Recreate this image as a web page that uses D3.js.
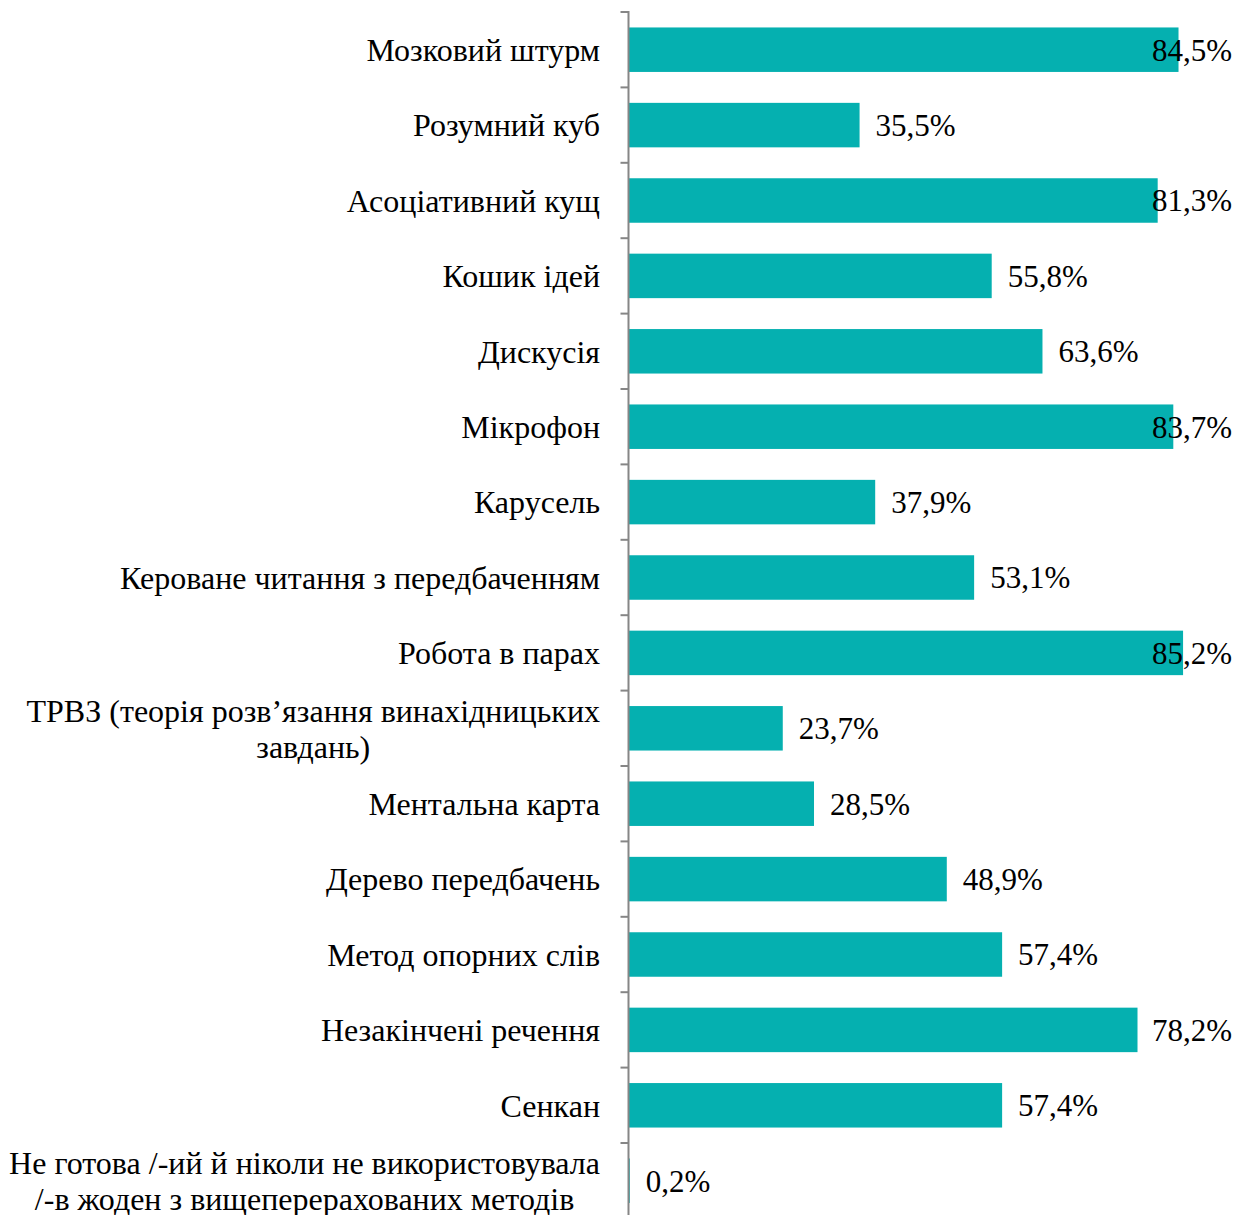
<!DOCTYPE html>
<html>
<head>
<meta charset="utf-8">
<script src="https://cdn.jsdelivr.net/npm/d3@7"></script>
<style>
  body { margin: 0; background: #fff; }
  text { font-family: "Liberation Serif", "Times New Roman", serif; }
</style>
</head>
<body>
<script>
// categories, top to bottom ("\n" = line break in the label)
var categories = [
  'Мозковий штурм',
  'Розумний куб',
  'Асоціативний кущ',
  'Кошик ідей',
  'Дискусія',
  'Мікрофон',
  'Карусель',
  'Кероване читання з передбаченням',
  'Робота в парах',
  'ТРВЗ (теорія розв’язання винахідницьких\nзавдань)',
  'Ментальна карта',
  'Дерево передбачень',
  'Метод опорних слів',
  'Незакінчені речення',
  'Сенкан',
  'Не готова /-ий й ніколи не використовувала\n/-в жоден з вищеперерахованих методів'
];

var values = [84.5, 35.5, 81.3, 55.8, 63.6, 83.7, 37.9, 53.1, 85.2, 23.7, 28.5, 48.9, 57.4, 78.2, 57.4, 0.2];

var width = 1236;
var height = 1215;
var axisX = 628.5;
var rightEdge = 1232;

var svg = d3.select('body')
  .append('svg')
    .attr('width', width)
    .attr('height', height);

var x = d3.scaleLinear()
    .domain([0, 100])
    .range([axisX, axisX + 650.9]);

var y = d3.scaleBand()
    .domain(categories)
    .range([12, 12 + 75.4 * categories.length])
    .paddingInner(0.41)
    .paddingOuter(0.205);

// bars
svg.selectAll('rect.bar')
  .data(values)
  .enter().append('rect')
    .attr('class', 'bar')
    .attr('x', x(0))
    .attr('y', function(d, i) { return y(categories[i]); })
    .attr('width', function(d) { return x(d) - x(0); })
    .attr('height', y.bandwidth())
    .attr('fill', '#05B0B0');

// category axis (ticks at band edges)
var axis = svg.append('g').attr('class', 'y axis');
var edges = categories.map(function(c) { return y(c) - y.step() * y.paddingOuter(); });
axis.selectAll('line.tick')
  .data(edges)
  .enter().append('line')
    .attr('x1', axisX - 8)
    .attr('x2', axisX)
    .attr('y1', function(d) { return d; })
    .attr('y2', function(d) { return d; })
    .attr('stroke', '#868686')
    .attr('stroke-width', 2);
axis.append('line')
  .attr('x1', axisX).attr('x2', axisX)
  .attr('y1', edges[0] - 1).attr('y2', height + 10)
  .attr('stroke', '#868686')
  .attr('stroke-width', 2);

// category labels
var fs = 32;
var labels = svg.selectAll('text.cat')
  .data(categories)
  .enter().append('text')
    .attr('class', 'cat')
    .attr('font-size', fs)
    .attr('fill', '#000');

labels.each(function(c) {
  var lines = c.split('\n');
  var t = d3.select(this);
  var cy = y(c) + y.bandwidth() / 2;
  var lh = 36;
  var tspans = lines.map(function(l, k) {
    return t.append('tspan')
      .attr('y', cy + (k - (lines.length - 1) / 2) * lh)
      .attr('dy', '0.35em')
      .text(l);
  });
  // block right aligned at x=600, lines centered within the block
  var w = d3.max(tspans, function(s) { return s.node().getComputedTextLength(); });
  var center = 600 - w / 2;
  tspans.forEach(function(s) {
    s.attr('x', center).attr('text-anchor', 'middle');
  });
});

// value labels
svg.selectAll('text.val')
  .data(values)
  .enter().append('text')
    .attr('class', 'val')
    .attr('font-size', 31)
    .attr('fill', '#000')
    .attr('y', function(d, i) { return y(categories[i]) + y.bandwidth() / 2; })
    .attr('dy', '0.35em')
    .text(function(d) { return d.toFixed(1).replace('.', ',') + '%'; })
    .attr('x', function(d) {
      var w = this.getComputedTextLength();
      return Math.min(x(d) + 16, rightEdge - w);
    });
</script>
</body>
</html>
